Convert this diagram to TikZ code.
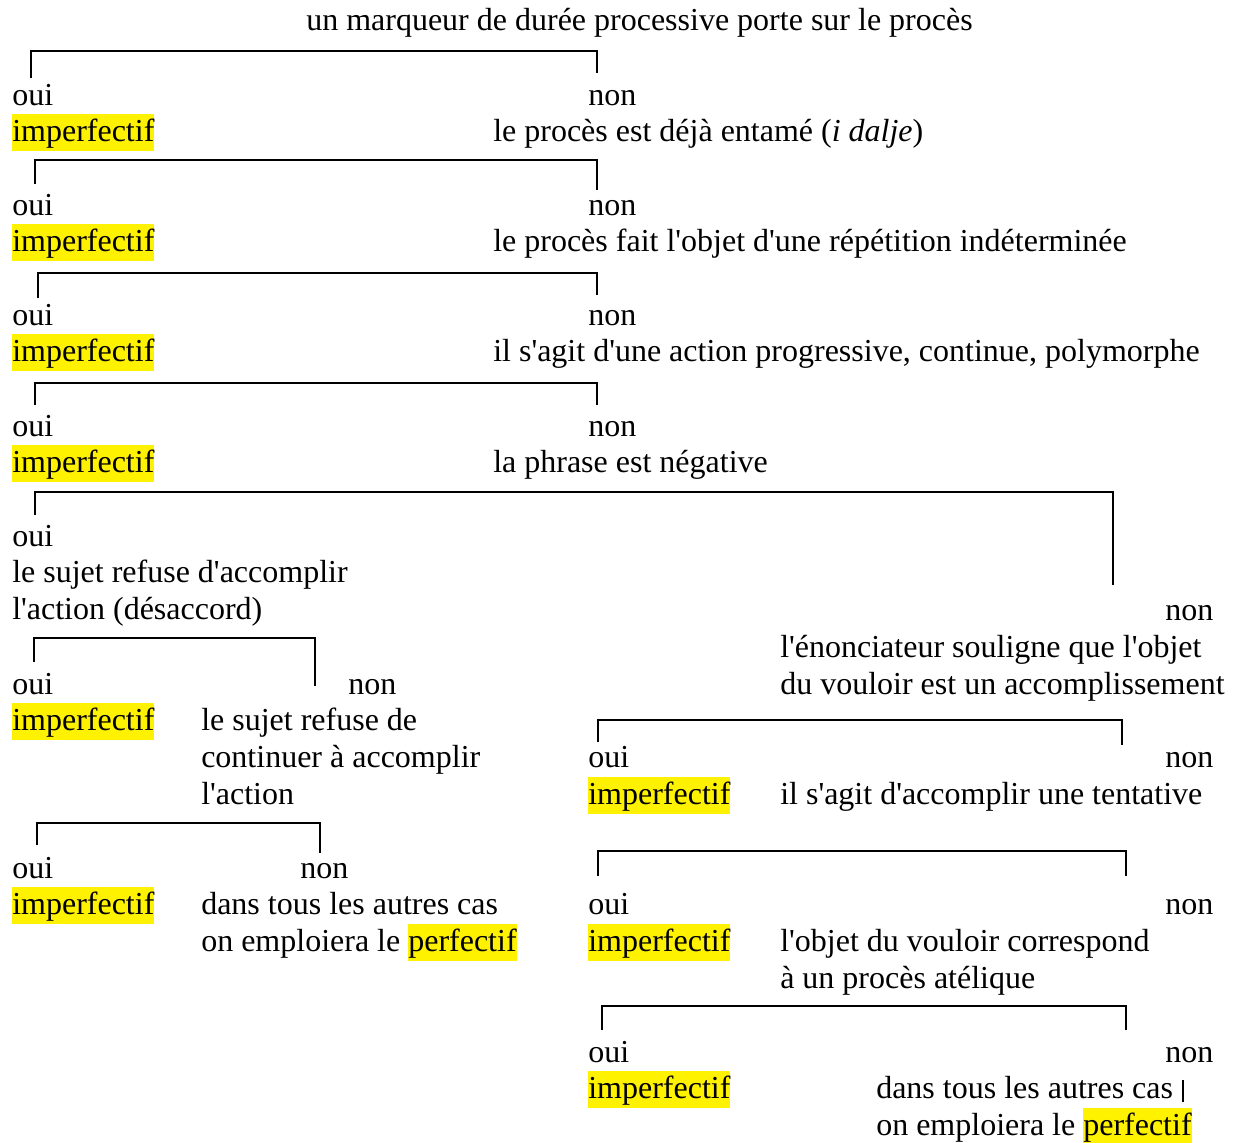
\documentclass[tikz,border=0pt]{standalone}
\usepackage{fontspec}
\setmainfont{Liberation Serif}[Ligatures=TeXOff]
\tikzset{
    txt/.style={anchor=base west, inner sep=0pt, align=left,
                font=\fontsize{24}{27.75}\selectfont},
    imp/.style={txt, fill=yellow, text height=20pt, text depth=7.5pt},
    branche/.style={line width=1.1pt},
}
\newcommand{\jaune}[1]{{\setlength{\fboxsep}{0pt}\colorbox{yellow}{\rule[-7.5pt]{0pt}{27.5pt}#1}}}

\begin{document}
\begin{tikzpicture}[x=0.75pt, y=-0.75pt]
    \useasboundingbox (0,0) rectangle (1234,1142);

    \node[txt] (titre) at (306,31) {un marqueur de durée processive porte sur le procès};

    % colonne de gauche (les textes sur plusieurs lignes: base = derniere ligne)
    \node[txt] (oui1) at (12,105) {oui};
    \node[txt] (non1) at (588,105) {non};
    \node[imp] (imp1) at (12,141) {imperfectif};
    \node[txt] (q1) at (493,141) {le procès est déjà entamé (\textit{i dalje})};
    \draw[branche] (31,78) |- (597,51) -- (597,73);

    \node[txt] (oui2) at (12,215) {oui};
    \node[txt] (non2) at (588,215) {non};
    \node[imp] (imp2) at (12,251) {imperfectif};
    \node[txt] (q2) at (493,251) {le procès fait l'objet d'une répétition indéterminée};
    \draw[branche] (35,184) |- (597,160) -- (597,190);

    \node[txt] (oui3) at (12,325) {oui};
    \node[txt] (non3) at (588,325) {non};
    \node[imp] (imp3) at (12,361) {imperfectif};
    \node[txt] (q3) at (493,361) {il s'agit d'une action progressive, continue, polymorphe};
    \draw[branche] (38,298) |- (597,273) -- (597,295);

    \node[txt] (oui4) at (12,436) {oui};
    \node[txt] (non4) at (588,436) {non};
    \node[imp] (imp4) at (12,472) {imperfectif};
    \node[txt] (q4) at (493,472) {la phrase est négative};
    \draw[branche] (35,405) |- (597,383) -- (597,405);

    \node[txt] (oui5) at (12,546) {oui};
    \node[txt] (q5) at (12,619) {le sujet refuse d'accomplir\\l'action (désaccord)};
    \node[txt] (non5) at (1165,620) {non};
    \node[txt] (q6) at (780,694) {l'énonciateur souligne que l'objet\\du vouloir est un accomplissement};
    \draw[branche] (35,515) |- (1113,492) -- (1113,585);

    \node[txt] (oui6) at (12,694) {oui};
    \node[txt] (non6) at (348,694) {non};
    \node[imp] (imp6) at (12,730) {imperfectif};
    \node[txt] (q7) at (201,804) {le sujet refuse de\\continuer à accomplir\\l'action};
    \draw[branche] (34,662) |- (315,638) -- (315,686);

    \node[txt] (oui7) at (12,878) {oui};
    \node[txt] (non7) at (300,878) {non};
    \node[imp] (imp7) at (12,914) {imperfectif};
    \node[txt] (fin1) at (201,951) {dans tous les autres cas\\on emploiera le \jaune{perfectif}};
    \draw[branche] (37,845) |- (320,823) -- (320,853);

    % colonne de droite
    \node[txt] (oui8) at (588,767) {oui};
    \node[txt] (non8) at (1165,767) {non};
    \node[imp] (imp8) at (588,804) {imperfectif};
    \node[txt] (q8) at (780,804) {il s'agit d'accomplir une tentative};
    \draw[branche] (598,742) |- (1122,720) -- (1122,745);

    \node[txt] (oui9) at (588,914) {oui};
    \node[txt] (non9) at (1165,914) {non};
    \node[imp] (imp9) at (588,951) {imperfectif};
    \node[txt] (q9) at (780,988) {l'objet du vouloir correspond\\à un procès atélique};
    \draw[branche] (598,876) |- (1126,851) -- (1126,876);

    \node[txt] (oui10) at (588,1062) {oui};
    \node[txt] (non10) at (1165,1062) {non};
    \node[imp] (imp10) at (588,1098) {imperfectif};
    \node[txt] (fin2) at (876,1135) {dans tous les autres cas\\on emploiera le \jaune{perfectif}};
    \draw[branche] (602,1030) |- (1126,1006) -- (1126,1030);
    \draw[branche] (1183,1080) -- (1183,1102);

\end{tikzpicture}
\end{document}
